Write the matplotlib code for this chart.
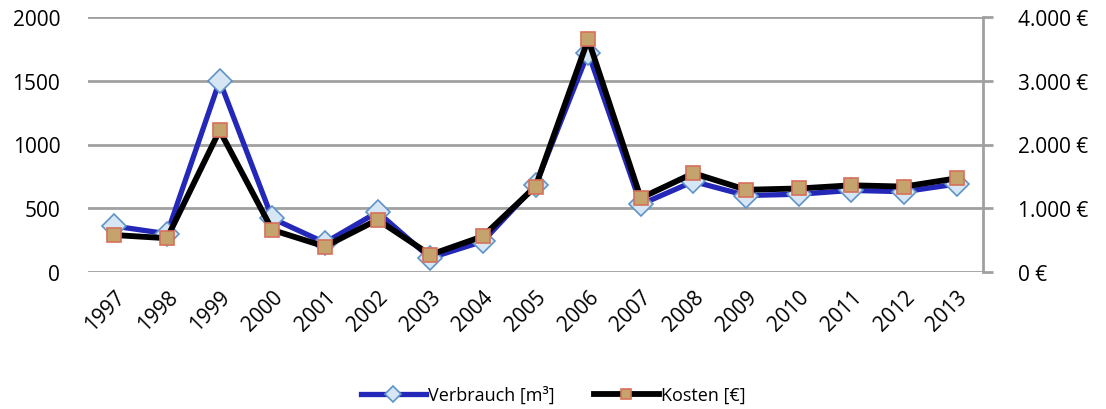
import matplotlib
matplotlib.use('Agg')
import matplotlib.pyplot as plt
from matplotlib.ticker import FuncFormatter

plt.rcParams['font.family'] = ['Open Sans', 'DejaVu Sans']

years = ['1997', '1998', '1999', '2000', '2001', '2002', '2003', '2004', '2005',
         '2006', '2007', '2008', '2009', '2010', '2011', '2012', '2013']
verbrauch = [360, 300, 1500, 420, 230, 470, 110, 240, 680,
             1720, 530, 710, 600, 610, 640, 630, 690]
kosten = [580, 530, 2220, 660, 400, 820, 270, 560, 1340,
          3650, 1160, 1550, 1290, 1310, 1360, 1340, 1470]

x = list(range(len(years)))
grid_col = '#a0a0a0'

fig = plt.figure(figsize=(11.06, 4.10), dpi=100)
ax = fig.add_axes([88 / 1106, 1 - 273 / 410, (983 - 88) / 1106, (273 - 18) / 410])
ax2 = ax.twinx()

# left axis: Verbrauch
ax.plot(x, verbrauch, color='#2428b8', lw=3.8, marker='D', markersize=12,
        markerfacecolor='#d6e6f4', markeredgecolor='#5f93c8', markeredgewidth=1.2,
        label='Verbrauch [m³]', zorder=3)
ax.set_xlim(-0.5, len(years) - 0.5)
ax.set_ylim(0, 2000)
ax.set_yticks([0, 500, 1000, 1500, 2000])
ax.yaxis.grid(True, color=grid_col, lw=2)
ax.set_axisbelow(True)
ax.tick_params(axis='y', length=0, labelsize=15, pad=20)
ax.set_xticks(x)
ax.set_xticklabels(years, rotation=45, ha='right', va='top', rotation_mode='anchor', fontsize=15)
ax.tick_params(axis='x', length=0, pad=10)
for s in ['top', 'left', 'right', 'bottom']:
    ax.spines[s].set_visible(False)

# right axis: Kosten
ax2.plot(x, kosten, color='black', lw=4.2, marker='s', markersize=10,
         markerfacecolor='#c4a46c', markeredgecolor='#d8705a', markeredgewidth=1.2,
         label='Kosten [€]', zorder=4)
ax2.set_ylim(0, 4000)
ax2.set_yticks([0, 1000, 2000, 3000, 4000])
ax2.yaxis.set_major_formatter(FuncFormatter(lambda v, p: f'{int(v):,} €'.replace(',', '.')))
ax2.tick_params(axis='y', length=7, width=2, color=grid_col, labelsize=15, pad=18)
for s in ['top', 'left', 'bottom']:
    ax2.spines[s].set_visible(False)
ax2.spines['right'].set_color(grid_col)
ax2.spines['right'].set_linewidth(2)

h1, l1 = ax.get_legend_handles_labels()
h2, l2 = ax2.get_legend_handles_labels()
fig.legend(h1 + h2, l1 + l2, loc='center', bbox_to_anchor=(0.5, 1 - 396 / 410),
           ncol=2, frameon=False, fontsize=13, handlelength=3.6, columnspacing=2.2,
           handletextpad=0.1, markerscale=0.7)

plt.savefig('out.png', dpi=100)
